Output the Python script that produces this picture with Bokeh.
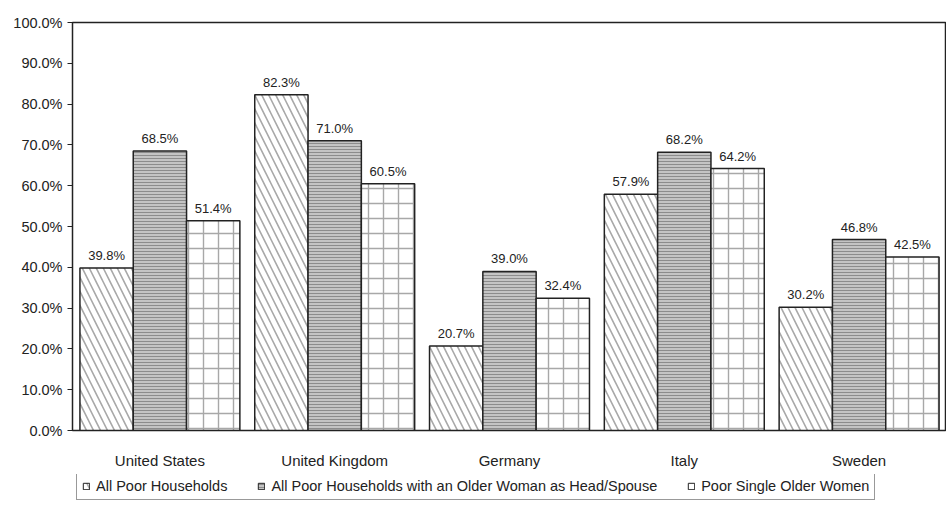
from bokeh.plotting import figure
from bokeh.layouts import column
from bokeh.models import ColumnDataSource, FactorRange, Range1d, Legend, LegendItem, PrintfTickFormatter, FixedTicker
from bokeh.transform import dodge
from bokeh.core.properties import value
from bokeh.embed import file_html
from bokeh.resources import INLINE

countries = ["United States", "United Kingdom", "Germany", "Italy", "Sweden"]
all_poor = [39.8, 82.3, 20.7, 57.9, 30.2]
older_woman_head = [68.5, 71.0, 39.0, 68.2, 46.8]
single_older_women = [51.4, 60.5, 32.4, 64.2, 42.5]
series_names = ["All Poor Households",
                "All Poor Households with an Older Woman as Head/Spouse",
                "Poor Single Older Women"]
y_ticks = [0, 10, 20, 30, 40, 50, 60, 70, 80, 90, 100]

src = ColumnDataSource(dict(
    c=countries, a=all_poor, b=older_woman_head, s=single_older_women,
    al=[f"{v:.1f}%" for v in all_poor],
    bl=[f"{v:.1f}%" for v in older_woman_head],
    sl=[f"{v:.1f}%" for v in single_older_women],
))

FONT = "Liberation Sans"
W = 946
p = figure(x_range=FactorRange(*countries), y_range=Range1d(0, 100),
           width=W, height=474, output_backend="svg", toolbar_location=None,
           min_border_left=72, min_border_top=22, min_border_right=0, min_border_bottom=44)
p.xgrid.visible = False
p.ygrid.visible = False
p.outline_line_color = "#222222"
p.outline_line_width = 1.5
p.background_fill_color = "white"
p.border_fill_color = "white"

bw = 0.305
styles = [
    dict(fill_color="white", hatch_pattern="left_diagonal_line", hatch_color="#a8a8a8", hatch_scale=14, hatch_weight=1.6),
    dict(fill_color="#c4c4c4", hatch_pattern="horizontal_line", hatch_color="#8c8c8c", hatch_scale=3, hatch_weight=1),
    dict(fill_color="white", hatch_pattern="cross", hatch_color="#a8a8a8", hatch_scale=15, hatch_weight=1.4),
]
cols = ["a", "b", "s"]
labs = ["al", "bl", "sl"]
offs = [-bw, 0, bw]
for col, lab, off, st in zip(cols, labs, offs, styles):
    p.vbar(x=dodge("c", off, range=p.x_range), top=col, width=bw, source=src,
           line_color="#222222", line_width=1.5, **st)
    p.text(x=dodge("c", off, range=p.x_range), y=col, text=lab, source=src,
           text_align="center", text_baseline="bottom", y_offset=-5,
           text_font=value(FONT), text_font_size="13px", text_color="#222222")

p.yaxis.ticker = FixedTicker(ticks=y_ticks)
p.yaxis.formatter = PrintfTickFormatter(format="%.1f%%")
p.yaxis.major_label_text_font = FONT
p.yaxis.major_label_text_font_size = "14.5px"
p.yaxis.major_label_text_color = "#222222"
p.yaxis.major_tick_out = 5
p.yaxis.major_tick_in = 0
p.yaxis.minor_tick_line_color = None
p.yaxis.major_label_standoff = 5
p.yaxis.axis_line_color = "#222222"
p.yaxis.major_tick_line_color = "#222222"

p.xaxis.major_tick_line_color = None
p.xaxis.axis_line_color = "#222222"
p.xaxis.major_label_text_font = FONT
p.xaxis.major_label_text_font_size = "15px"
p.xaxis.major_label_text_color = "#222222"
p.xaxis.major_label_standoff = 15

# legend strip below the chart (off-screen placeholder bars feed the legend glyphs)
lf = figure(width=W, height=31, output_backend="svg", toolbar_location=None,
            x_axis_type=None, y_axis_type=None, min_border=0,
            x_range=Range1d(0, 1), y_range=Range1d(0, 1))
lf.outline_line_color = None
lf.xgrid.visible = False
lf.ygrid.visible = False
lf.border_fill_color = "white"
dummies = [lf.vbar(x=[-10], top=[-10], bottom=[-11], width=0.1, line_color="#222222", line_width=1, **st)
           for st in styles]
legend = Legend(items=[LegendItem(label=n, renderers=[r]) for n, r in zip(series_names, dummies)],
                orientation="horizontal", location=(4, 5))
legend.label_text_font = FONT
legend.label_text_font_size = "14.5px"
legend.label_text_color = "#222222"
legend.glyph_width = 8
legend.glyph_height = 8
legend.label_standoff = 6
legend.spacing = 30
legend.padding = 5
legend.margin = 0
legend.border_line_color = "#333333"
legend.border_line_width = 1
legend.label_height = 13
lf.add_layout(legend, "center")

layout = column(p, lf, spacing=0)
open("out.html", "w").write(file_html(layout, INLINE))
